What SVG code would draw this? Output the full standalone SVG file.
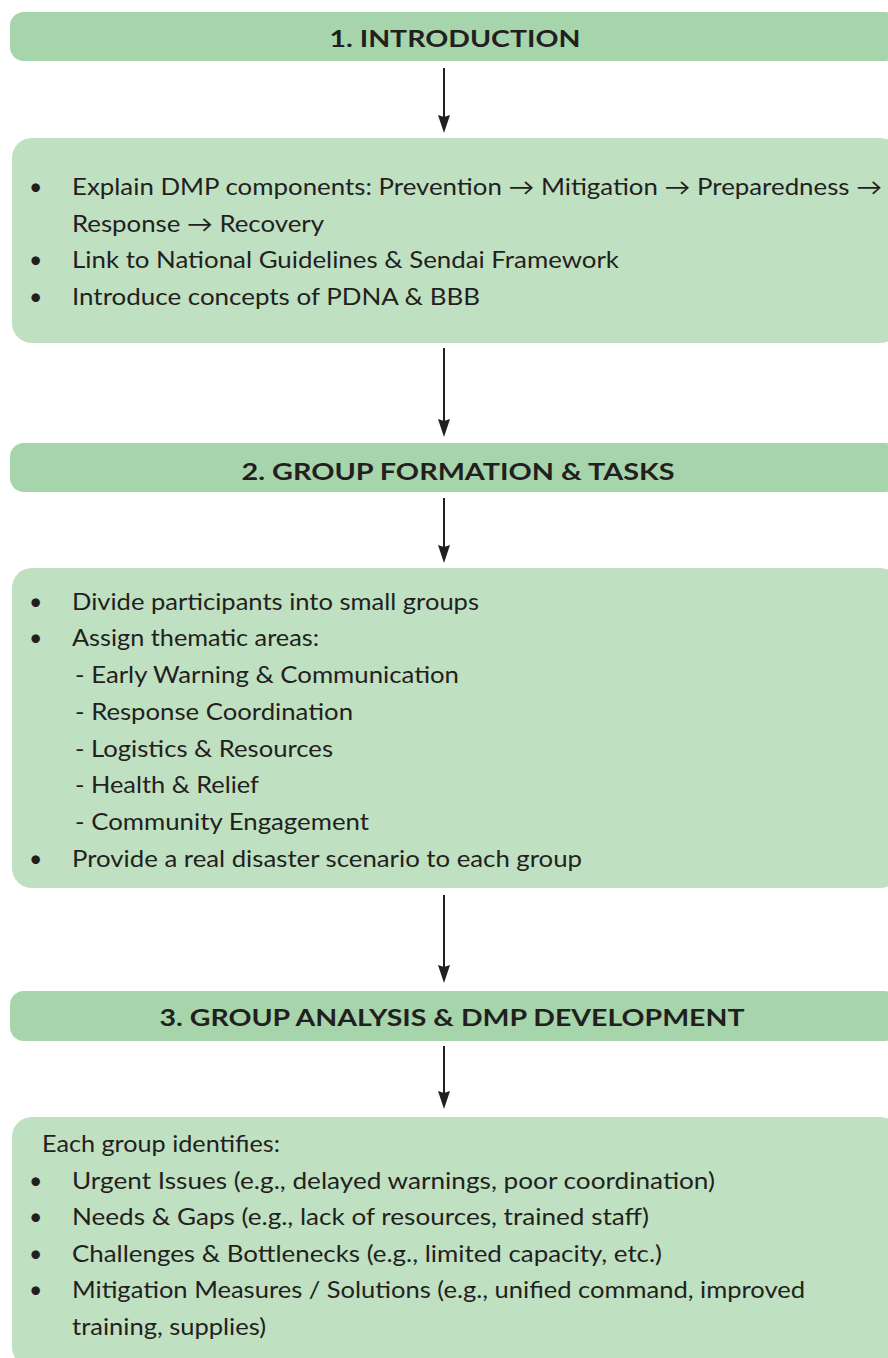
<svg xmlns="http://www.w3.org/2000/svg" width="888" height="1358" viewBox="0 0 888 1358">
  <defs>
    <!-- arrowhead drawn along +x; tip sits 10px past the end of the line -->
    <marker id="arrowhead" viewBox="0 0 18 12" refX="8" refY="6" markerWidth="18" markerHeight="12" markerUnits="userSpaceOnUse" orient="auto">
      <path d="M0,0 L18,6 L0,12 L2,6 Z" fill="#231f20"/>
    </marker>
    <style>
      .head { fill: #a6d5ab; }
      .body { fill: #c0e0c2; }
      .htxt { font-family: Lato, "Open Sans", sans-serif; font-weight: 700; font-size: 22px; fill: #231f20; text-anchor: middle; }
      .txt { font-family: Lato, "Open Sans", sans-serif; font-size: 23px; fill: #231f20; }
      .conn { stroke: #231f20; stroke-width: 2; fill: none; }
    </style>
  </defs>

  <rect width="888" height="1358" fill="#ffffff"/>

  <!-- Section headers and content boxes -->
  <g id="header-introduction">
    <rect class="head" x="10" y="12" width="888" height="49" rx="14"/>
    <text class="htxt" x="455" y="47" textLength="251" lengthAdjust="spacingAndGlyphs">1. INTRODUCTION</text>
  </g>

  <g id="box-introduction">
    <rect class="body" x="12" y="138" width="888" height="205" rx="20"/>
    <text class="txt" x="29" y="195">•</text>
    <text class="txt" x="72" y="195" textLength="810" lengthAdjust="spacingAndGlyphs">Explain DMP components: Prevention → Mitigation → Preparedness →</text>
    <text class="txt" x="72" y="232" textLength="252" lengthAdjust="spacingAndGlyphs">Response → Recovery</text>
    <text class="txt" x="29" y="268">•</text>
    <text class="txt" x="72" y="268" textLength="547" lengthAdjust="spacingAndGlyphs">Link to National Guidelines &amp; Sendai Framework</text>
    <text class="txt" x="29" y="305">•</text>
    <text class="txt" x="72" y="305" textLength="408" lengthAdjust="spacingAndGlyphs">Introduce concepts of PDNA &amp; BBB</text>
  </g>

  <g id="header-group-formation">
    <rect class="head" x="10" y="443" width="888" height="49" rx="14"/>
    <text class="htxt" x="458" y="480" textLength="433" lengthAdjust="spacingAndGlyphs">2. GROUP FORMATION &amp; TASKS</text>
  </g>

  <g id="box-group-formation">
    <rect class="body" x="12" y="568" width="888" height="320" rx="20"/>
    <text class="txt" x="29" y="610">•</text>
    <text class="txt" x="72" y="610" textLength="407" lengthAdjust="spacingAndGlyphs">Divide participants into small groups</text>
    <text class="txt" x="29" y="646">•</text>
    <text class="txt" x="72" y="646" textLength="247" lengthAdjust="spacingAndGlyphs">Assign thematic areas:</text>
    <text class="txt" x="75" y="683" textLength="384" lengthAdjust="spacingAndGlyphs">- Early Warning &amp; Communication</text>
    <text class="txt" x="75" y="720" textLength="278" lengthAdjust="spacingAndGlyphs">- Response Coordination</text>
    <text class="txt" x="75" y="757" textLength="258" lengthAdjust="spacingAndGlyphs">- Logistics &amp; Resources</text>
    <text class="txt" x="75" y="793" textLength="184" lengthAdjust="spacingAndGlyphs">- Health &amp; Relief</text>
    <text class="txt" x="75" y="830" textLength="294" lengthAdjust="spacingAndGlyphs">- Community Engagement</text>
    <text class="txt" x="29" y="867">•</text>
    <text class="txt" x="72" y="867" textLength="510" lengthAdjust="spacingAndGlyphs">Provide a real disaster scenario to each group</text>
  </g>

  <g id="header-group-analysis">
    <rect class="head" x="10" y="991" width="888" height="50" rx="14"/>
    <text class="htxt" x="452" y="1026" textLength="585" lengthAdjust="spacingAndGlyphs">3. GROUP ANALYSIS &amp; DMP DEVELOPMENT</text>
  </g>

  <g id="box-group-analysis">
    <rect class="body" x="12" y="1117" width="888" height="250" rx="20"/>
    <text class="txt" x="42" y="1152" textLength="238" lengthAdjust="spacingAndGlyphs">Each group identifies:</text>
    <text class="txt" x="29" y="1189">•</text>
    <text class="txt" x="72" y="1189" textLength="643" lengthAdjust="spacingAndGlyphs">Urgent Issues (e.g., delayed warnings, poor coordination)</text>
    <text class="txt" x="29" y="1225">•</text>
    <text class="txt" x="72" y="1225" textLength="577" lengthAdjust="spacingAndGlyphs">Needs &amp; Gaps (e.g., lack of resources, trained staff)</text>
    <text class="txt" x="29" y="1262">•</text>
    <text class="txt" x="72" y="1262" textLength="590" lengthAdjust="spacingAndGlyphs">Challenges &amp; Bottlenecks (e.g., limited capacity, etc.)</text>
    <text class="txt" x="29" y="1298">•</text>
    <text class="txt" x="72" y="1298" textLength="733" lengthAdjust="spacingAndGlyphs">Mitigation Measures / Solutions (e.g., unified command, improved</text>
    <text class="txt" x="72" y="1335" textLength="194" lengthAdjust="spacingAndGlyphs">training, supplies)</text>
  </g>

  <!-- Connectors between stages; each line stops 10px short of its arrow tip -->
  <g id="connectors">
    <line class="conn" x1="444" y1="68" x2="444" y2="123" marker-end="url(#arrowhead)"/>
    <line class="conn" x1="444" y1="348" x2="444" y2="427" marker-end="url(#arrowhead)"/>
    <line class="conn" x1="444" y1="498" x2="444" y2="553" marker-end="url(#arrowhead)"/>
    <line class="conn" x1="444" y1="895" x2="444" y2="973" marker-end="url(#arrowhead)"/>
    <line class="conn" x1="444" y1="1046" x2="444" y2="1099" marker-end="url(#arrowhead)"/>
  </g>
</svg>
